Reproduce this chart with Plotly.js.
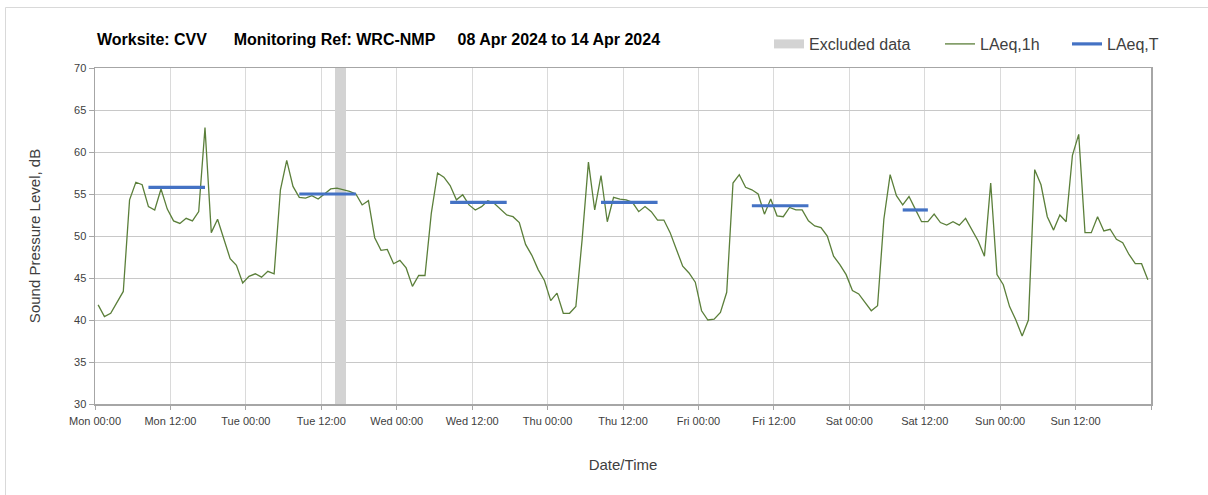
<!DOCTYPE html>
<html>
<head>
<meta charset="utf-8">
<script src="https://cdn.plot.ly/plotly-3.0.1.min.js"></script>
<style>
html,body{margin:0;padding:0;background:#fff;}
#chart{width:1208px;height:495px;}
</style>
</head>
<body>
<div id="chart"></div>
<script>
// ---- Data ----
var weekStart = "2024-04-08T00:00:00";
var pointOffsetMinutes = 30; // hourly values plotted at mid-hour

// LAeq,1h hourly values, Mon 00:00 .. Sun 23:00 (168 values)
var laeq1hMon = [41.8,40.4,40.8,42.1,43.4,54.3,56.4,56.1,53.5,53.1,55.6,53.2,51.8,51.5,52.1,51.8,52.9,62.9,50.4,52.0,49.6,47.3,46.5,44.4];
var laeq1hTue = [45.2,45.5,45.1,45.8,45.5,55.5,59.0,55.9,54.6,54.5,54.8,54.4,55.0,55.6,55.7,55.5,55.3,55.0,53.7,54.2,49.8,48.3,48.4,46.7];
var laeq1hWed = [47.1,46.2,44.0,45.3,45.3,52.7,57.5,57.0,56.0,54.3,54.9,53.7,53.1,53.5,54.2,53.9,53.2,52.5,52.3,51.6,49.0,47.7,46.0,44.7];
var laeq1hThu = [42.3,43.2,40.8,40.8,41.6,49.6,58.8,53.1,57.2,51.7,54.6,54.4,54.3,54.0,52.9,53.5,52.9,51.9,51.9,50.4,48.4,46.4,45.6,44.5];
var laeq1hFri = [41.1,40.0,40.1,40.9,43.3,56.3,57.3,55.8,55.5,55.0,52.6,54.4,52.4,52.3,53.4,53.1,53.1,51.8,51.2,51.0,50.0,47.6,46.6,45.4];
var laeq1hSat = [43.5,43.1,42.1,41.1,41.7,52.0,57.3,54.8,53.7,54.7,53.2,51.7,51.7,52.6,51.6,51.3,51.7,51.3,52.1,50.8,49.4,47.6,56.3,45.4];
var laeq1hSun = [44.2,41.6,40.0,38.1,40.0,57.9,56.1,52.3,50.7,52.5,51.7,59.6,62.1,50.4,50.4,52.3,50.6,50.8,49.6,49.2,47.8,46.7,46.7,44.8];

// LAeq,T period values
var laeqTStart = ["2024-04-08T08:30","2024-04-09T08:30","2024-04-10T08:30","2024-04-11T08:30","2024-04-12T08:30","2024-04-13T08:30"];
var laeqTEnd   = ["2024-04-08T17:30","2024-04-09T17:30","2024-04-10T17:30","2024-04-11T17:30","2024-04-12T17:30","2024-04-13T12:30"];
var laeqTValues = [55.8,55.0,54.0,54.0,53.6,53.1];

// Excluded data period
var excludedStart = "2024-04-09T14:12";
var excludedEnd   = "2024-04-09T15:54";

// Axis ticks
var tickDates = ["2024-04-08T00:00","2024-04-08T12:00","2024-04-09T00:00","2024-04-09T12:00","2024-04-10T00:00","2024-04-10T12:00",
  "2024-04-11T00:00","2024-04-11T12:00","2024-04-12T00:00","2024-04-12T12:00","2024-04-13T00:00","2024-04-13T12:00",
  "2024-04-14T00:00","2024-04-14T12:00","2024-04-15T00:00"];
var tickLabels = ["Mon 00:00","Mon 12:00","Tue 00:00","Tue 12:00","Wed 00:00","Wed 12:00","Thu 00:00","Thu 12:00",
  "Fri 00:00","Fri 12:00","Sat 00:00","Sat 12:00","Sun 00:00","Sun 12:00",""];

// ---- Build traces ----
function fmt(d){
  function p(n){return (n<10?"0":"")+n;}
  return d.getUTCFullYear()+"-"+p(d.getUTCMonth()+1)+"-"+p(d.getUTCDate())+" "+p(d.getUTCHours())+":"+p(d.getUTCMinutes());
}
var laeq1h = [].concat(laeq1hMon,laeq1hTue,laeq1hWed,laeq1hThu,laeq1hFri,laeq1hSat,laeq1hSun);
var base = new Date(weekStart+"Z").getTime();
var xs = laeq1h.map(function(v,i){ return fmt(new Date(base + (i*60+pointOffsetMinutes)*60000)); });

var tx = [], ty = [];
for (var k=0;k<laeqTValues.length;k++){
  tx.push(laeqTStart[k].replace("T"," "), laeqTEnd[k].replace("T"," "), null);
  ty.push(laeqTValues[k], laeqTValues[k], null);
}
var exS = new Date(excludedStart+"Z").getTime(), exE = new Date(excludedEnd+"Z").getTime();
var exMid = fmt(new Date((exS+exE)/2));

var traces = [
  {type:"bar", name:"Excluded data", x:[exMid], y:[40], base:[30], width:[exE-exS],
   marker:{color:"#d3d3d3", line:{width:0}}, hoverinfo:"skip", showlegend:false},
  // legend entry for the excluded band (rectangular key)
  {type:"scatter", mode:"lines", name:"Excluded data", x:[null], y:[null],
   line:{color:"#d3d3d3", width:9}, legend:"legend"},
  {type:"scatter", mode:"lines", name:"LAeq,1h", x:xs, y:laeq1h,
   line:{color:"#5b7f3a", width:1.3}, legend:"legend2"},
  {type:"scatter", mode:"lines", name:"LAeq,T", x:tx, y:ty, connectgaps:false,
   line:{color:"#4472c4", width:3.2}, legend:"legend3"}
];

var fontFam = "Liberation Sans, Arial, sans-serif";
function leg(xpx){
  return {orientation:"h", x:(xpx-95)/1056, xanchor:"left", y:(404-44)/336, yanchor:"middle",
          font:{size:16, color:"#404040"}, bgcolor:"rgba(0,0,0,0)"};
}
var layout = {
  width:1208, height:495,
  margin:{l:95, r:57, t:68, b:91, pad:0},
  paper_bgcolor:"#ffffff", plot_bgcolor:"#ffffff",
  font:{family:fontFam, color:"#404040"},
  showlegend:true,
  legend:leg(769), legend2:leg(940), legend3:leg(1067),
  xaxis:{type:"date", range:["2024-04-08 00:00","2024-04-15 00:00"],
         tickmode:"array", tickvals:tickDates.map(function(s){return s.replace("T"," ");}), ticktext:tickLabels,
         showgrid:true, gridcolor:"#dadada", gridwidth:1,
         showline:true, linecolor:"#a6a6a6", linewidth:1.5, mirror:true,
         ticks:"outside", ticklen:4, tickcolor:"#a6a6a6", ticklabelstandoff:2,
         tickfont:{size:11, color:"#404040"}, zeroline:false, fixedrange:true,
         title:{text:"Date/Time", font:{size:15, color:"#404040"}, standoff:34}},
  yaxis:{range:[30,70], dtick:5, tick0:30,
         showgrid:true, gridcolor:"#c8c8c8", gridwidth:1,
         showline:true, linecolor:"#a6a6a6", linewidth:1.5, mirror:true,
         ticks:"outside", ticklen:5, tickcolor:"#a6a6a6",
         tickfont:{size:11, color:"#404040"}, zeroline:false, fixedrange:true,
         title:{text:"Sound Pressure Level, dB", font:{size:15, color:"#404040"}, standoff:30}},
  annotations:[{xref:"paper", yref:"paper", x:0, xanchor:"left", y:1.085, yanchor:"middle",
    text:"<b>Worksite: CVV\u00a0\u00a0\u00a0\u00a0\u00a0 Monitoring Ref: WRC-NMP\u00a0\u00a0\u00a0\u00a0 08 Apr 2024 to 14 Apr 2024</b>",
    showarrow:false, font:{size:16, color:"#000000", family:fontFam}}],
  shapes:[{type:"rect", xref:"paper", yref:"paper",
    x0:(5.5-95)/1056, x1:2, y0:-1, y1:(404-7.5)/336,
    line:{color:"#d9d9d9", width:1}, fillcolor:"rgba(0,0,0,0)", layer:"below"}],
  bargap:0
};

Plotly.newPlot("chart", traces, layout, {staticPlot:true, displayModeBar:false});
</script>
</body>
</html>
